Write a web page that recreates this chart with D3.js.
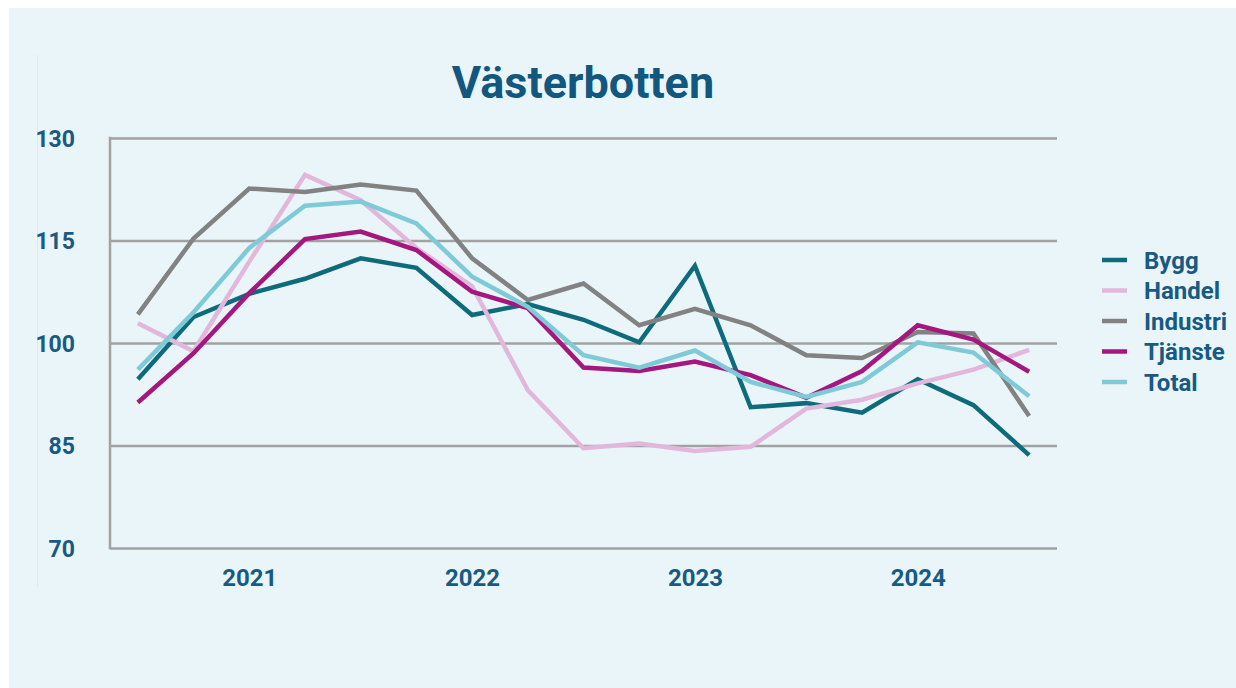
<!DOCTYPE html>
<html>
<head>
<meta charset="utf-8">
<script src="https://cdn.jsdelivr.net/npm/d3@7"></script>
<style>
  body { margin: 0; background: #ffffff; }
  svg { display: block; }
  text { font-family: Roboto, "Noto Sans", sans-serif; font-weight: 700; }
</style>
</head>
<body>
<div id="chart"></div>
<script>
var width = 1236;
var height = 688;

// kvartal, 2020K3 - 2024K3
var quarters = ["2020K3", "2020K4",
  "2021K1", "2021K2", "2021K3", "2021K4",
  "2022K1", "2022K2", "2022K3", "2022K4",
  "2023K1", "2023K2", "2023K3", "2023K4",
  "2024K1", "2024K2", "2024K3"];
var yearTicks = ["2021K1", "2022K1", "2023K1", "2024K1"];
var yTicks = [70, 85, 100, 115, 130];

var series = ["Bygg", "Handel", "Industri", "Tjänste", "Total"];
var bygg     = [94.7, 103.8, 107.2, 109.4, 112.4, 111.0, 104.1, 105.7, 103.4, 100.1, 111.3, 90.6, 91.2, 89.8, 94.7, 90.9, 83.6];
var handel   = [102.9, 98.8, 111.9, 124.6, 120.9, 113.9, 108.3, 93.1, 84.6, 85.3, 84.2, 84.8, 90.4, 91.7, 94.1, 96.1, 99.0];
var industri = [104.2, 115.3, 122.6, 122.1, 123.2, 122.3, 112.4, 106.3, 108.7, 102.6, 105.0, 102.6, 98.2, 97.8, 101.6, 101.4, 89.3];
var tjanste  = [91.3, 98.5, 107.3, 115.2, 116.3, 113.6, 107.5, 105.1, 96.4, 95.9, 97.3, 95.3, 92.0, 95.9, 102.6, 100.5, 95.8];
var total    = [96.1, 104.5, 113.9, 120.1, 120.7, 117.5, 109.7, 105.3, 98.2, 96.4, 98.9, 94.3, 92.1, 94.3, 100.1, 98.6, 92.2];
var values = [bygg, handel, industri, tjanste, total];
var colors = ["#0d6b7b", "#e3b7db", "#828282", "#a3177f", "#7ecbd7"];

var textColor = "#185a82";
var gridColor = "#a2a2a2";

var svg = d3.select("#chart")
            .append("svg")
            .attr("width", width)
            .attr("height", height);

// bakgrund
svg.append("rect")
    .attr("x", 9)
    .attr("y", 8)
    .attr("width", width - 9)
    .attr("height", height - 8)
    .attr("fill", "#e9f5f8");

svg.append("line")
    .attr("x1", 37.5).attr("x2", 37.5)
    .attr("y1", 55).attr("y2", 587)
    .attr("stroke", "#dce9ed")
    .attr("stroke-width", 1);

var plot = {left: 110, right: 1057, top: 138, bottom: 548};

var x = d3.scalePoint()
            .domain(quarters)
            .range([plot.left, plot.right])
            .padding(0.5);

var y = d3.scaleLinear()
            .domain([70, 130])
            .range([plot.bottom, plot.top]);

svg.append("text")
    .attr("x", 583)
    .attr("y", 98)
    .attr("text-anchor", "middle")
    .attr("fill", "#12577f")
    .style("font-size", "45px")
    .text("Västerbotten");

// stödlinjer
var yAxis = d3.axisLeft(y)
                .tickValues(yTicks)
                .tickSize(-(plot.right - plot.left))
                .tickPadding(35);

var gy = svg.append("g")
            .attr("transform", "translate(" + plot.left + ",0)")
            .call(yAxis);
gy.select(".domain").remove();
gy.selectAll(".tick line")
    .attr("stroke", gridColor)
    .attr("stroke-width", 2.5);
gy.selectAll(".tick text")
    .attr("fill", textColor)
    .attr("dy", "0.36em")
    .style("font-size", "23px");

svg.append("line")
    .attr("x1", plot.left).attr("x2", plot.left)
    .attr("y1", plot.top - 1.25).attr("y2", plot.bottom + 1.25)
    .attr("stroke", gridColor)
    .attr("stroke-width", 2.5);

var xAxis = d3.axisBottom(x)
                .tickValues(yearTicks)
                .tickSize(0)
                .tickPadding(38)
                .tickFormat(d => d.slice(0, 4));

var gx = svg.append("g")
            .attr("transform", "translate(0," + plot.bottom + ")")
            .call(xAxis);
gx.select(".domain").remove();
gx.selectAll(".tick text")
    .attr("fill", textColor)
    .attr("dy", "0")
    .style("font-size", "24px");

var lineGenerator = d3.line()
                        .x((d, i) => x(quarters[i]))
                        .y(d => y(d));

svg.append("g")
    .selectAll("path")
    .data(values)
    .join("path")
    .attr("d", d => lineGenerator(d))
    .attr("fill", "none")
    .attr("stroke", (d, i) => colors[i])
    .attr("stroke-width", 4.5)
    .attr("stroke-linejoin", "miter");

// förklaring
var legend = svg.append("g")
                .selectAll("g")
                .data(series)
                .join("g")
                .attr("transform", (d, i) => "translate(1102," + (260 + i * 30.5) + ")");

legend.append("line")
    .attr("x1", 0).attr("x2", 25)
    .attr("stroke", (d, i) => colors[i])
    .attr("stroke-width", 4.5);

legend.append("text")
    .attr("x", 42)
    .attr("dy", "0.36em")
    .attr("fill", textColor)
    .style("font-size", "24px")
    .text(d => d);
</script>
</body>
</html>
